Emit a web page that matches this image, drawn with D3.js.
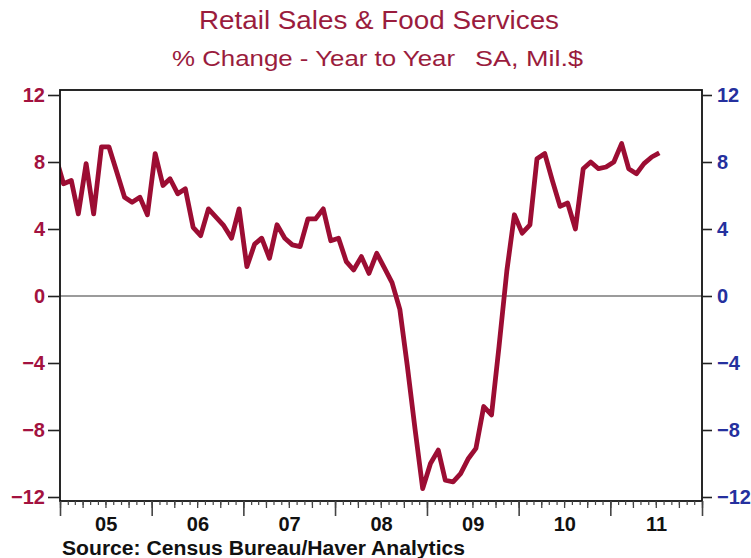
<!DOCTYPE html>
<html>
<head>
<meta charset="utf-8">
<script src="https://cdn.jsdelivr.net/npm/d3@7"></script>
<style>
  body { margin: 0; background: #fff; }
  text { font-family: "Liberation Sans", Arial, sans-serif; }
</style>
</head>
<body>
<div id="chart"></div>
<script>
// monthly % change year to year, first value is Dec 2004 (clipped by the frame)
const firstMonth = new Date(2004, 11, 15);
const values2004 = [8.3];
const values2005 = [6.7, 6.9, 4.9, 7.9, 4.9, 8.9, 8.9, 7.4, 5.9, 5.6, 5.9, 4.85];
const values2006 = [8.5, 6.6, 7.0, 6.1, 6.4, 4.1, 3.6, 5.2, 4.7, 4.2, 3.45, 5.2];
const values2007 = [1.75, 3.1, 3.45, 2.25, 4.25, 3.45, 3.05, 2.95, 4.6, 4.6, 5.2, 3.3];
const values2008 = [3.45, 2.05, 1.55, 2.35, 1.35, 2.55, 1.7, 0.8, -0.8, -4.2, -8.0, -11.5];
const values2009 = [-10.0, -9.2, -11.0, -11.1, -10.6, -9.7, -9.1, -6.6, -7.1, -3.0, 1.5, 4.85];
const values2010 = [3.75, 4.25, 8.2, 8.5, 6.9, 5.35, 5.55, 4.0, 7.6, 8.0, 7.6, 7.7];
const values2011 = [8.0, 9.1, 7.6, 7.3, 7.9, 8.3, 8.55];

const yTicks = [-12, -8, -4, 0, 4, 8, 12];
const yearLabels = ["05", "06", "07", "08", "09", "10", "11"];

const title = "Retail Sales & Food Services";
const subtitleLeft = "% Change - Year to Year";
const subtitleRight = "SA, Mil.$";
const source = "Source:  Census Bureau/Haver Analytics";

const lineColor = "#9c0d33";
const leftColor = "#a3123f";
const rightColor = "#25309e";
const titleColor = "#9a1c3d";

const W = 751, H = 558;
const frame = { left: 60, right: 702, top: 90, bottom: 501 };

const allValues = [].concat(values2004, values2005, values2006, values2007,
  values2008, values2009, values2010, values2011);
const data = allValues.map((v, i) => ({ date: d3.timeMonth.offset(firstMonth, i), value: v }));

const svg = d3.select("#chart").append("svg")
  .attr("width", W).attr("height", H);

const x = d3.scaleTime()
  .domain([new Date(2005, 0, 1), new Date(2012, 0, 1)])
  .range([frame.left, frame.right]);
const y = d3.scaleLinear().domain([-12, 12]).range([497, 95]);

// titles
svg.append("text")
  .attr("x", 199).attr("y", 29)
  .attr("textLength", 360).attr("lengthAdjust", "spacingAndGlyphs")
  .attr("font-size", 26).attr("fill", titleColor)
  .text(title);
svg.append("text")
  .attr("x", 172).attr("y", 66)
  .attr("textLength", 283).attr("lengthAdjust", "spacingAndGlyphs")
  .attr("font-size", 22.5).attr("fill", titleColor)
  .text(subtitleLeft);
svg.append("text")
  .attr("x", 475).attr("y", 66)
  .attr("textLength", 108).attr("lengthAdjust", "spacingAndGlyphs")
  .attr("font-size", 22.5).attr("fill", titleColor)
  .text(subtitleRight);

// zero line
svg.append("line")
  .attr("x1", frame.left).attr("x2", frame.right)
  .attr("y1", y(0)).attr("y2", y(0))
  .attr("stroke", "#7a7a7a").attr("stroke-width", 1.5);

// line, clipped to the frame
svg.append("clipPath").attr("id", "clip")
  .append("rect")
  .attr("x", frame.left).attr("y", frame.top)
  .attr("width", frame.right - frame.left).attr("height", frame.bottom - frame.top);

const line = d3.line().x(d => x(d.date)).y(d => y(d.value));
svg.append("path")
  .datum(data)
  .attr("clip-path", "url(#clip)")
  .attr("fill", "none")
  .attr("stroke", lineColor)
  .attr("stroke-width", 4.8)
  .attr("stroke-linejoin", "round")
  .attr("d", line);

// frame
svg.append("rect")
  .attr("x", frame.left).attr("y", frame.top)
  .attr("width", frame.right - frame.left).attr("height", frame.bottom - frame.top)
  .attr("fill", "none").attr("stroke", "#111").attr("stroke-width", 1.8);

// y axes
const leftAxis = svg.append("g")
  .attr("transform", `translate(${frame.left},0)`)
  .call(d3.axisLeft(y).tickValues(yTicks).tickSize(12).tickPadding(3));
leftAxis.select(".domain").remove();
leftAxis.selectAll("line").attr("stroke", "#222").attr("stroke-width", 1.6);
leftAxis.selectAll("text")
  .attr("font-size", 20).attr("font-weight", "bold").attr("fill", leftColor)
  .style("font-family", "'Liberation Sans', Arial, sans-serif");

const rightAxis = svg.append("g")
  .attr("transform", `translate(${frame.right},0)`)
  .call(d3.axisRight(y).tickValues(yTicks).tickSize(10).tickPadding(5));
rightAxis.select(".domain").remove();
rightAxis.selectAll("line").attr("stroke", "#222").attr("stroke-width", 1.6);
rightAxis.selectAll("text")
  .attr("font-size", 20).attr("font-weight", "bold").attr("fill", rightColor)
  .style("font-family", "'Liberation Sans', Arial, sans-serif");

// x ticks: months, quarters, years
function tickAxis(interval, size, width) {
  const g = svg.append("g")
    .attr("transform", `translate(0,${frame.bottom})`)
    .call(d3.axisBottom(x).ticks(interval).tickSize(size).tickFormat(""));
  g.select(".domain").remove();
  g.selectAll("line").attr("stroke", "#444").attr("stroke-width", width);
}
tickAxis(d3.timeMonth, 4, 1.2);
tickAxis(d3.timeMonth.every(3), 7, 1.3);
tickAxis(d3.timeYear, 15, 1.6);

// year labels centred in each year
const labelAxis = svg.append("g")
  .attr("transform", `translate(0,${frame.bottom})`)
  .call(d3.axisBottom(x)
    .tickValues(yearLabels.map(s => new Date(2000 + (+s), 6, 2)))
    .tickSize(0).tickPadding(16)
    .tickFormat((d, i) => yearLabels[i]));
labelAxis.select(".domain").remove();
labelAxis.selectAll("text")
  .attr("font-size", 20).attr("font-weight", "bold").attr("fill", "#111")
  .style("font-family", "'Liberation Sans', Arial, sans-serif");

// source
svg.append("text")
  .attr("x", 62).attr("y", 555)
  .attr("textLength", 403).attr("lengthAdjust", "spacingAndGlyphs")
  .attr("font-size", 20).attr("font-weight", "bold").attr("fill", "#111")
  .text(source);
</script>
</body>
</html>
